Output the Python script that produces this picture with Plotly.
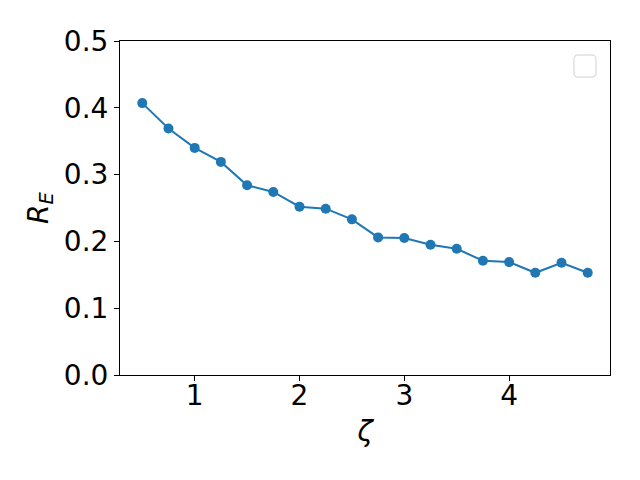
import plotly.graph_objects as go

zeta = [0.5, 0.75, 1.0, 1.25, 1.5, 1.75, 2.0, 2.25, 2.5, 2.75, 3.0, 3.25, 3.5, 3.75, 4.0, 4.25, 4.5, 4.75]
r_e = [0.407, 0.369, 0.340, 0.319, 0.284, 0.274, 0.252, 0.249, 0.233, 0.206, 0.205, 0.195, 0.189, 0.171, 0.169, 0.153, 0.168, 0.153]
x_ticks = [1, 2, 3, 4]
y_ticks = [0.0, 0.1, 0.2, 0.3, 0.4, 0.5]

fig = go.Figure()
fig.add_trace(go.Scatter(
    x=zeta, y=r_e, mode="lines+markers",
    line=dict(color="#1f77b4", width=2),
    marker=dict(color="#1f77b4", size=10),
    showlegend=False,
))

font = dict(family="DejaVu Sans", size=28, color="black")
axis_common = dict(
    showline=True, linecolor="black", linewidth=1, mirror=True,
    ticks="outside", ticklen=5, tickwidth=1, tickcolor="black",
    showgrid=False, zeroline=False, tickfont=font, automargin=False,
)
fig.update_xaxes(range=[0.2875, 4.9625], tickvals=x_ticks,
                 ticktext=[str(v) for v in x_ticks], ticklabelstandoff=-10,
                 title=dict(text="<i>ζ</i>", font=font, standoff=10), **axis_common)
fig.update_yaxes(range=[0, 0.5], tickvals=y_ticks,
                 ticktext=[f"{v:.1f}" for v in y_ticks],
                 title=dict(text="<i>R</i><sub><i>E</i></sub>", font=font, standoff=7), **axis_common)

# empty legend box (rounded)
x0, x1, y0, y1 = 0.9265, 0.9714, 0.892, 0.958
rx, ry = 0.008, 0.012
path = (f"M {x0+rx},{y0} L {x1-rx},{y0} Q {x1},{y0} {x1},{y0+ry} "
        f"L {x1},{y1-ry} Q {x1},{y1} {x1-rx},{y1} L {x0+rx},{y1} "
        f"Q {x0},{y1} {x0},{y1-ry} L {x0},{y0+ry} Q {x0},{y0} {x0+rx},{y0} Z")
fig.add_shape(type="path", path=path, xref="paper", yref="paper",
              line=dict(color="#d0d0d0", width=1), fillcolor="white")

fig.update_layout(
    width=640, height=480,
    margin=dict(l=112, r=38, t=33, b=113),
    paper_bgcolor="white", plot_bgcolor="white",
    font=font,
)
fig.write_html("out.html")
